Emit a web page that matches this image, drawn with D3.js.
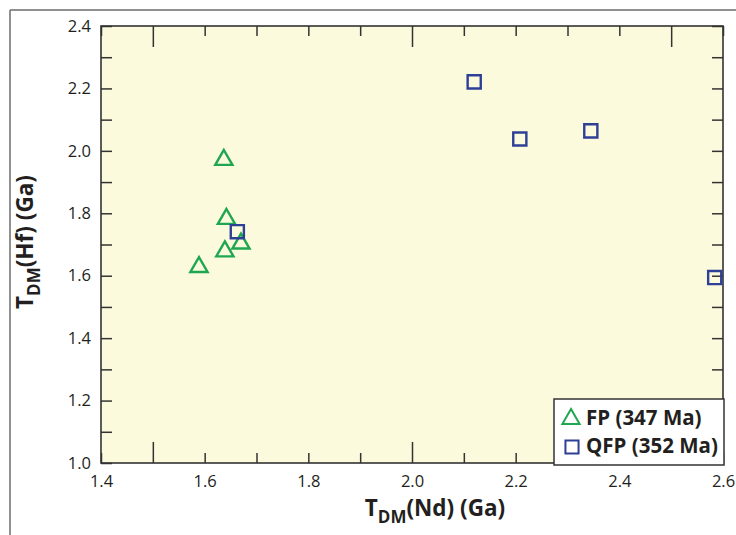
<!DOCTYPE html>
<html>
<head>
<meta charset="utf-8">
<script src="https://cdn.jsdelivr.net/npm/d3@7"></script>
<style>
  html, body { margin: 0; padding: 0; background: #fff; }
  svg { display: block; }
</style>
</head>
<body>
<svg id="chart" width="736" height="535"></svg>
<script>
// ---- data ----
const fpNd  = [1.637, 1.642, 1.639, 1.670, 1.589];
const fpHf  = [1.971, 1.782, 1.678, 1.703, 1.628];
const qfpNd = [1.663, 2.120, 2.208, 2.345, 2.584];
const qfpHf = [1.741, 2.221, 2.038, 2.064, 1.594];
const xTickLabels = [1.4, 1.6, 1.8, 2.0, 2.2, 2.4, 2.6];
const yTickLabels = [1.0, 1.2, 1.4, 1.6, 1.8, 2.0, 2.2, 2.4];
const seriesNames = ["FP (347 Ma)", "QFP (352 Ma)"];

const W = 736, H = 535;
const m = {left: 101, top: 26, right: 723, bottom: 463};
const svg = d3.select("#chart");

const x = d3.scaleLinear().domain([1.4, 2.6]).range([m.left, m.right]);
const y = d3.scaleLinear().domain([1.0, 2.4]).range([m.bottom, m.top]);

const green = "#1fa650", blue = "#2e3f96", ink = "#231f20";
const tickFont = "'Open Sans', 'Liberation Sans', sans-serif";

// outer frame lines
svg.append("line").attr("x1", 10).attr("x2", W + 2).attr("y1", 10).attr("y2", 10)
  .attr("stroke", "#6d6d6d").attr("stroke-width", 1.5);
svg.append("line").attr("x1", 10).attr("x2", 10).attr("y1", 10).attr("y2", H + 2)
  .attr("stroke", "#6d6d6d").attr("stroke-width", 1.5);

// plot background
svg.append("rect").attr("x", m.left).attr("y", m.top)
  .attr("width", m.right - m.left).attr("height", m.bottom - m.top)
  .attr("fill", "#fcfadc");

const xTicks = d3.range(14, 27).map(d => d / 10);
const yTicks = d3.range(10, 25).map(d => d / 10);
const isLong = v => Math.round(v * 10) % 5 === 0;
const fmt = v => xTickLabels.some(t => Math.abs(t - v) < 1e-6) ? d3.format(".1f")(v) : "";
const fmtY = v => yTickLabels.some(t => Math.abs(t - v) < 1e-6) ? d3.format(".1f")(v) : "";

function styleAxis(g) {
  g.select(".domain").remove();
  g.selectAll(".tick line").attr("stroke", "#333").attr("stroke-width", 1.5);
  g.selectAll(".tick text").attr("fill", ink).attr("font-family", tickFont).attr("font-size", 16.5);
}

// bottom
const gB = svg.append("g").attr("transform", `translate(0,${m.bottom})`)
  .call(d3.axisBottom(x).tickValues(xTicks).tickSize(-10).tickPadding(12).tickFormat(fmt));
styleAxis(gB);
gB.selectAll(".tick line").attr("y2", d => isLong(d) ? -21 : -10);

// top
const gT = svg.append("g").attr("transform", `translate(0,${m.top})`)
  .call(d3.axisTop(x).tickValues(xTicks).tickSize(-10).tickFormat(""));
styleAxis(gT);
gT.selectAll(".tick line").attr("y2", d => isLong(d) ? 21 : 10);

// left
const gL = svg.append("g").attr("transform", `translate(${m.left},0)`)
  .call(d3.axisLeft(y).tickValues(yTicks).tickSize(-11).tickPadding(10).tickFormat(fmtY));
styleAxis(gL);

// right
const gR = svg.append("g").attr("transform", `translate(${m.right},0)`)
  .call(d3.axisRight(y).tickValues(yTicks).tickSize(-11).tickFormat(""));
styleAxis(gR);

// plot border
svg.append("rect").attr("x", m.left).attr("y", m.top)
  .attr("width", m.right - m.left).attr("height", m.bottom - m.top)
  .attr("fill", "none").attr("stroke", "#333").attr("stroke-width", 1.6);

// data
const tri = d3.symbol().type(d3.symbolTriangle).size(128);
const sq = d3.symbol().type(d3.symbolSquare).size(172);

svg.append("g").selectAll("path").data(fpNd.map((v, i) => [v, fpHf[i]])).join("path")
  .attr("d", tri).attr("transform", d => `translate(${x(d[0])},${y(d[1])})`)
  .attr("fill", "none").attr("stroke", green).attr("stroke-width", 2.4);

svg.append("g").selectAll("path").data(qfpNd.map((v, i) => [v, qfpHf[i]])).join("path")
  .attr("d", sq).attr("transform", d => `translate(${x(d[0])},${y(d[1])})`)
  .attr("fill", "none").attr("stroke", blue).attr("stroke-width", 2.4);

// legend
const lg = svg.append("g");
lg.append("rect").attr("x", 554).attr("y", 399).attr("width", 170).attr("height", 66)
  .attr("fill", "#fff").attr("stroke", "#333").attr("stroke-width", 1.5);
lg.append("path").attr("d", tri).attr("transform", "translate(571,419)")
  .attr("fill", "none").attr("stroke", green).attr("stroke-width", 2);
lg.append("path").attr("d", sq).attr("transform", "translate(572,447)")
  .attr("fill", "none").attr("stroke", blue).attr("stroke-width", 2);
lg.selectAll("text").data(seriesNames).join("text")
  .attr("x", 586).attr("y", (d, i) => 424.5 + i * 28.5)
  .attr("font-family", tickFont).attr("font-weight", "bold").attr("font-size", 20.5)
  .attr("fill", ink).text(d => d);

// axis titles
function title(sel, main) {
  sel.attr("font-family", tickFont).attr("font-weight", "bold").attr("font-size", 22.5)
    .attr("fill", ink);
  sel.append("tspan").text("T");
  sel.append("tspan").text("DM").attr("font-size", 17).attr("dy", 7);
  sel.append("tspan").text(main).attr("dy", -7);
}
const xt = svg.append("text").attr("x", 435).attr("y", 516).attr("text-anchor", "middle");
title(xt, "(Nd) (Ga)");
const yt = svg.append("text").attr("transform", "translate(33,242) rotate(-90)").attr("text-anchor", "middle");
title(yt, "(Hf) (Ga)");
</script>
</body>
</html>
